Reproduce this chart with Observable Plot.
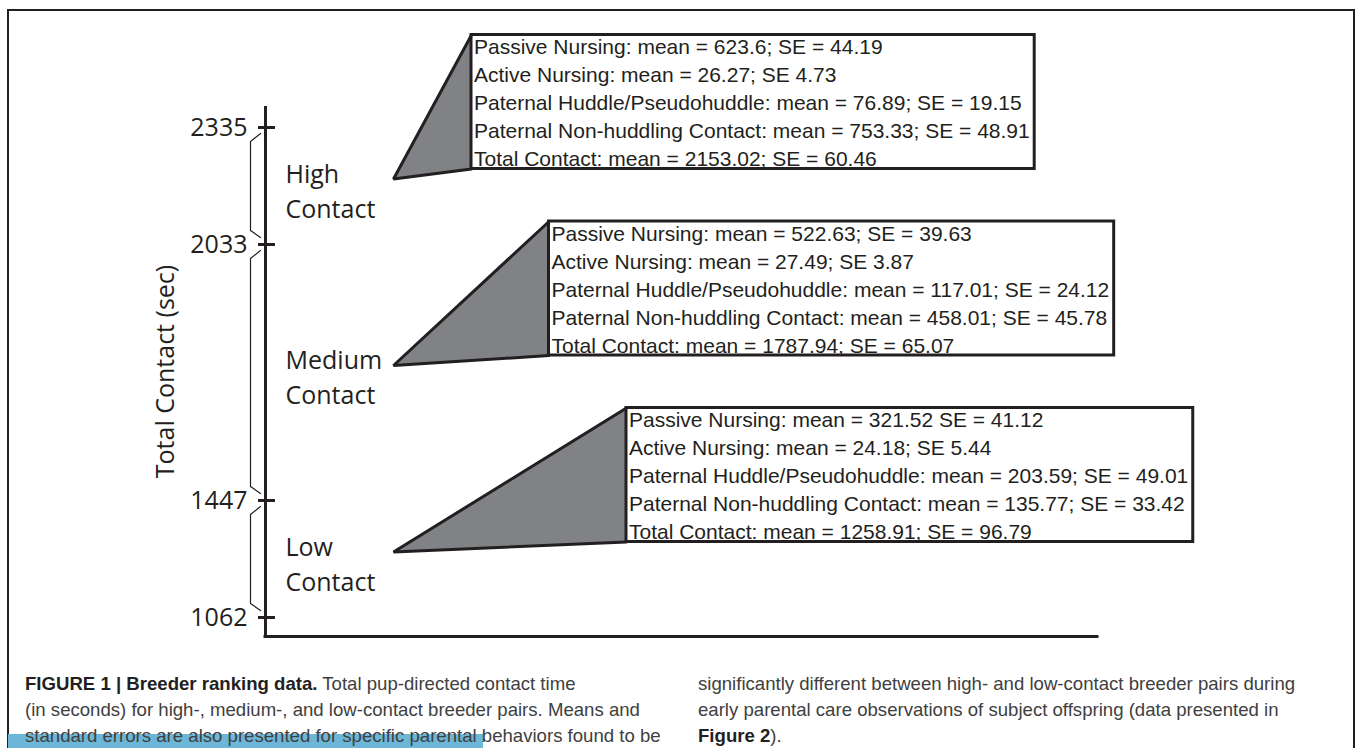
<!DOCTYPE html>
<html>
<head>
<meta charset="utf-8">
<script src="https://cdn.jsdelivr.net/npm/d3@7"></script>
<script src="https://cdn.jsdelivr.net/npm/@observablehq/plot@0.6"></script>
<style>
  html, body { margin: 0; padding: 0; background: #fff; }
  #page { position: relative; width: 1355px; height: 748px; overflow: hidden; background: #fff; }
  #frame { position: absolute; left: 7px; top: 9px; width: 1344px; height: 800px; border: 2px solid #231f20; }
  #chart { position: absolute; left: 0; top: 0; }
  #bar { position: absolute; left: 8px; top: 734px; width: 475px; height: 20px; background: #6cb7d8; }
  .cap { position: absolute; top: 671px; font-family: "Liberation Sans", Arial, sans-serif; font-size: 18.6px; line-height: 26px; color: #404040; white-space: nowrap; }
  .cap b { color: #231f20; }
</style>
</head>
<body>
<div id="page">
  <div id="frame"></div>
  <div id="bar"></div>
  <div id="chart"></div>
  <div class="cap" style="left:25px"><b>FIGURE 1 | Breeder ranking data.</b> Total pup-directed contact time<br>(in seconds) for high-, medium-, and low-contact breeder pairs. Means and<br>standard errors are also presented for specific parental behaviors found to be</div>
  <div class="cap" style="left:698px">significantly different between high- and low-contact breeder pairs during<br>early parental care observations of subject offspring (data presented in<br><b>Figure 2</b>).</div>
</div>
<script>
// ---------- data ----------
const tickValues = [2335, 2033, 1447, 1062];
const groupNames = ["High", "Medium", "Low"];
const groupUpper = [2335, 2033, 1447];
const groupLower = [2033, 1447, 1062];
const behaviors = ["Passive Nursing", "Active Nursing", "Paternal Huddle/Pseudohuddle", "Paternal Non-huddling Contact", "Total Contact"];
const highMean = [623.6, 26.27, 76.89, 753.33, 2153.02];
const highSE = [44.19, 4.73, 19.15, 48.91, 60.46];
const mediumMean = [522.63, 27.49, 117.01, 458.01, 1787.94];
const mediumSE = [39.63, 3.87, 24.12, 45.78, 65.07];
const lowMean = [321.52, 24.18, 203.59, 135.77, 1258.91];
const lowSE = [41.12, 5.44, 49.01, 33.42, 96.79];
// separators between the mean and the SE, as printed in the original
const highSep = ["; SE = ", "; SE ", "; SE = ", "; SE = ", "; SE = "];
const mediumSep = ["; SE = ", "; SE ", "; SE = ", "; SE = ", "; SE = "];
const lowSep = [" SE = ", "; SE ", "; SE = ", "; SE = ", "; SE = "];
const yTitle = "Total Contact (sec)";
const groupSuffix = "Contact";

// ---------- layout / style ----------
const INK = "#231f20";
const W = 1355, H = 660, ML = 265, MR = 258, MT = 106, MB = 24;
const breakPx = [617, 500, 244, 127]; // non-uniform axis: pixel of each break (ascending values)
const yDomain = tickValues.slice().sort((a, b) => a - b);
const yRange = breakPx;
const BOX_FONT = "'Liberation Sans', Arial, sans-serif";
const LABEL_FONT = "'Open Sans', 'Noto Sans', sans-serif";
const BOX_FS = 21, LABEL_FS = 25;

const y = Plot.scale({y: {type: "linear", domain: yDomain, range: yRange}});
const px2v = (p) => y.invert(p);

const means = [highMean, mediumMean, lowMean];
const ses = [highSE, mediumSE, lowSE];
const seps = [highSep, mediumSep, lowSep];

const ctx = document.createElement("canvas").getContext("2d");
ctx.font = `${BOX_FS}px ${BOX_FONT}`;

const triRows = [], boxRows = [], textRows = [], braceRows = [], labelRows = [];
groupNames.forEach((name, i) => {
  const uPx = y.apply(groupUpper[i]), lPx = y.apply(groupLower[i]);
  const midPx = (uPx + lPx) / 2;
  const apexPx = midPx - 7;
  const bottomPx = apexPx - 10;
  const topPx = bottomPx - 134;
  const apexX = 128;
  const boxX = 206 + 77.5 * i;
  const lines = behaviors.map((b, j) => `${b}: mean = ${means[i][j]}${seps[i][j]}${ses[i][j]}`);
  const maxW = d3.max(lines, (s) => ctx.measureText(s).width);
  const textX = boxX + 2.5;
  const boxX2 = textX + maxW + 5;
  triRows.push({g: name, x: boxX, y: px2v(topPx)}, {g: name, x: apexX, y: px2v(apexPx)}, {g: name, x: boxX, y: px2v(bottomPx)});
  boxRows.push({x1: boxX, x2: boxX2, y1: px2v(topPx), y2: px2v(bottomPx)});
  lines.forEach((s, j) => textRows.push({x: textX, y: px2v(topPx + 12.5 + 28 * j), text: s}));
  braceRows.push(
    {g: name, x: -5, y: px2v(uPx + 6)},
    {g: name, x: -15, y: px2v(uPx + 14)},
    {g: name, x: -15, y: px2v(lPx - 14)},
    {g: name, x: -5, y: px2v(lPx - 7)}
  );
  labelRows.push({y: (groupUpper[i] + groupLower[i]) / 2, text: `${name}\n${groupSuffix}`});
});

const chart = Plot.plot({
  width: W,
  height: H,
  marginLeft: ML,
  marginRight: MR,
  marginTop: MT,
  marginBottom: MB,
  style: {background: "transparent", overflow: "visible"},
  x: {type: "linear", domain: [0, W - ML - MR], axis: null},
  y: {type: "linear", domain: yDomain, range: yRange, axis: null},
  marks: [
    Plot.ruleX([0], {stroke: INK, strokeWidth: 3}),
    Plot.ruleY([px2v(H - MB)], {stroke: INK, strokeWidth: 3, strokeLinecap: "square"}),
    Plot.ruleY(tickValues, {y: (d) => d, x1: -7, x2: 10, stroke: INK, strokeWidth: 3}),
    Plot.text(tickValues, {y: (d) => d, x: -18, text: (d) => String(d), textAnchor: "end", fontSize: LABEL_FS, fontFamily: LABEL_FONT, fill: INK}),
    Plot.text([yTitle], {frameAnchor: "left", dx: -100, rotate: -90, textAnchor: "middle", lineAnchor: "middle", fontSize: LABEL_FS, fontFamily: LABEL_FONT, fill: INK}),
    Plot.line(braceRows, {x: "x", y: "y", z: "g", stroke: INK, strokeWidth: 1.2, curve: "linear"}),
    Plot.text(labelRows, {x: 20, y: "y", text: "text", dy: 3, lineHeight: 1.4, textAnchor: "start", fontSize: LABEL_FS, fontFamily: LABEL_FONT, fill: INK}),
    Plot.line(triRows, {x: "x", y: "y", z: "g", fill: "#808285", stroke: INK, strokeWidth: 3, strokeLinejoin: "miter", curve: "linear"}),
    Plot.rect(boxRows, {x1: "x1", x2: "x2", y1: "y1", y2: "y2", fill: "none", stroke: INK, strokeWidth: 3}),
    Plot.text(textRows, {x: "x", y: "y", text: "text", textAnchor: "start", fontSize: BOX_FS, fontFamily: BOX_FONT, fill: INK})
  ]
});
document.getElementById("chart").appendChild(chart);
</script>
</body>
</html>
